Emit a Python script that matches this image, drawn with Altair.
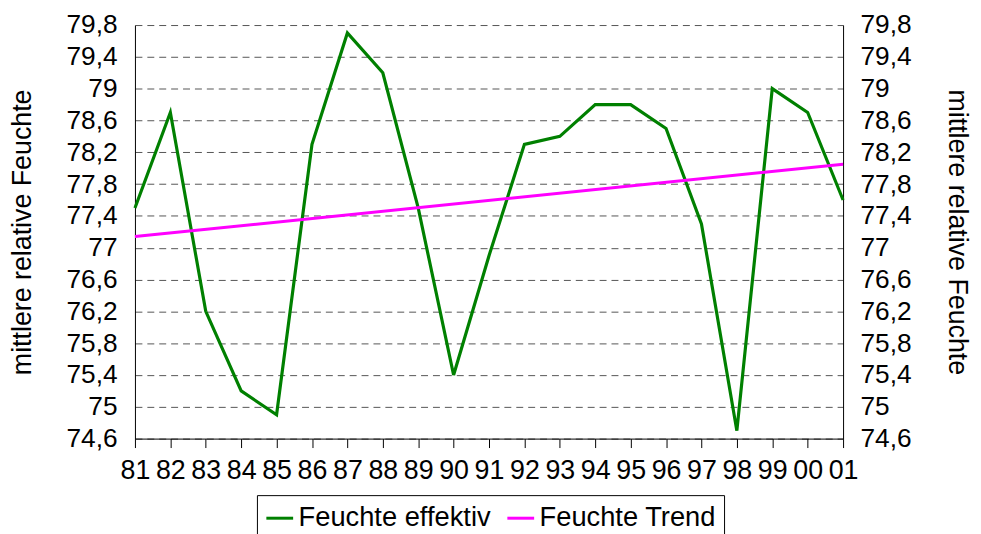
import altair as alt
import pandas as pd

years = ["81", "82", "83", "84", "85", "86", "87", "88", "89", "90", "91",
         "92", "93", "94", "95", "96", "97", "98", "99", "00", "01"]
feuchte = [77.5, 78.7, 76.2, 75.2, 74.9, 78.3, 79.7, 79.2, 77.5, 75.4, 76.9,
           78.3, 78.4, 78.8, 78.8, 78.5, 77.3, 74.7, 79.0, 78.7, 77.6]
trend_years = ["81", "01"]
trend_values = [77.14, 78.05]
y_ticks = [74.6, 75.0, 75.4, 75.8, 76.2, 76.6, 77.0, 77.4, 77.8, 78.2, 78.6, 79.0, 79.4, 79.8]
series_names = ["Feuchte effektiv", "Feuchte Trend"]
series_colors = ["#008000", "#FF00FF"]

df_eff = pd.DataFrame({"Jahr": years, "Wert": feuchte, "Serie": series_names[0]})
df_trend = pd.DataFrame({"Jahr": trend_years, "Wert": trend_values, "Serie": series_names[1]})

FONT = "Liberation Sans"
label_expr = "replace(toString(round(datum.value*10)/10), '.', ',')"

x_enc = alt.X("Jahr:O", sort=years,
              scale=alt.Scale(domain=years, type="point", padding=0),
              axis=alt.Axis(title=None, labelAngle=0, labelFontSize=27, labelFont=FONT,
                            labelColor="black", domainColor="black", tickColor="black",
                            tickSize=9, labelPadding=10, grid=False, labelOverlap=False))

y_scale = alt.Scale(domain=[74.6, 79.8], nice=False, zero=False)
color_enc = alt.Color("Serie:N",
                      scale=alt.Scale(domain=series_names, range=series_colors),
                      legend=alt.Legend(title=None))

left_axis = alt.Axis(title="mittlere relative Feuchte", orient="left", values=y_ticks,
                     labelExpr=label_expr, labelFontSize=26.5, labelFont=FONT, labelColor="black",
                     titleFontSize=27, titleFont=FONT, titleFontWeight="normal", titleColor="black",
                     titlePadding=30, labelPadding=18, ticks=False, domainColor="black",
                     grid=True, gridColor="#555555", gridDash=[7, 5], gridWidth=1)
right_axis = alt.Axis(title="mittlere relative Feuchte", orient="right", values=y_ticks,
                      labelExpr=label_expr, labelFontSize=26.5, labelFont=FONT, labelColor="black",
                      titleFontSize=27, titleFont=FONT, titleFontWeight="normal", titleColor="black",
                      titlePadding=32, labelPadding=17, ticks=False, domainColor="black",
                      grid=False)

eff = alt.Chart(df_eff).mark_line(strokeWidth=3.2).encode(
    x=x_enc,
    y=alt.Y("Wert:Q", scale=y_scale, axis=left_axis),
    color=color_enc,
)
trend = alt.Chart(df_trend).mark_line(strokeWidth=3).encode(
    x=x_enc,
    y=alt.Y("Wert:Q", scale=y_scale, axis=right_axis),
    color=color_enc,
)

chart = alt.layer(eff, trend).resolve_scale(y="shared").resolve_axis(y="independent").properties(
    width=714, height=417,
    autosize=alt.AutoSizeParams(type="none"),
    padding={"left": 128, "top": 15, "right": 131, "bottom": 94},
    background="white",
).configure_view(stroke=None).configure_legend(
    orient="none", legendX=123, legendY=474, direction="horizontal",
    strokeColor="black", strokeWidth=1, padding=8, fillColor="white",
    labelFontSize=27.5, labelFont=FONT, labelColor="black", labelLimit=400,
    symbolType="stroke", symbolSize=729, symbolStrokeWidth=3,
    labelOffset=4, columnPadding=10,
)

chart.save("out.html", embed_options={"renderer": "svg", "actions": False})
